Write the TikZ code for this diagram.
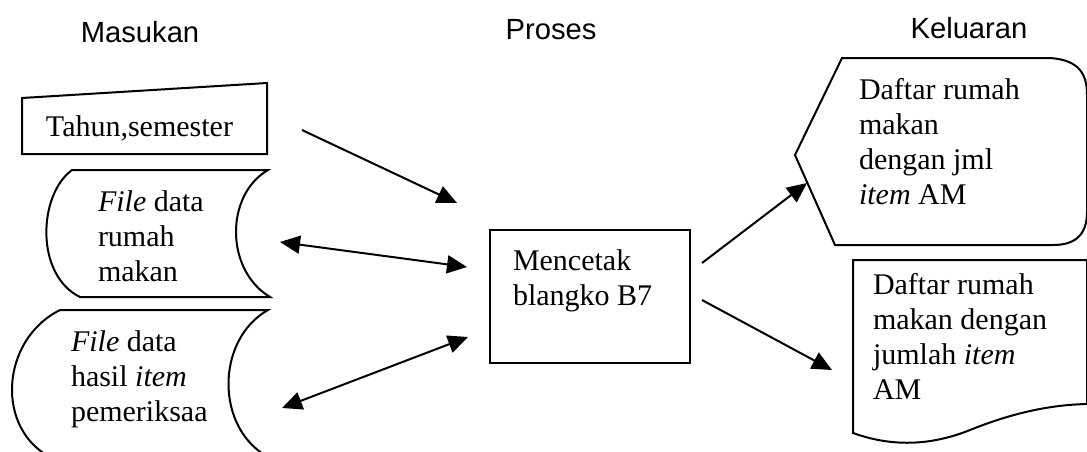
\documentclass[tikz,border=0pt]{standalone}
\usepackage{fontspec}
\setmainfont{Liberation Serif}
\setsansfont{Liberation Sans}
\usetikzlibrary{arrows.meta,positioning,calc}

\begin{document}
\begin{tikzpicture}[x=0.5pt, y=-0.5pt, line width=1pt, >={Triangle[length=10pt,width=9pt]}]
\tikzstyle{judul}=[font=\sffamily\fontsize{14.6}{17}\selectfont, inner sep=0pt]
\tikzstyle{isi}=[font=\fontsize{15}{17.5}\selectfont, align=left, inner sep=0pt, anchor=north west]
\useasboundingbox (0,0) rectangle (1087,451);
% judul kolom
\node[judul] (masuk)  at (140,32)  {Masukan};
\node[judul] (proses) at (551,30)  {Proses};
\node[judul] (keluar) at (969,28) {Keluaran};
% masukan
\draw (22,98) -- (267,83) -- (267,154) -- (22,154) -- cycle;
\node[isi, anchor=west] (tahun) at (45,128) {Tahun,semester};
\draw (72,170) -- (268,170) .. controls (225,195) and (225,270) .. (270,297) -- (80,297)
      .. controls (35,275) and (38,195) .. cycle;
\node[isi] (fileA) at (97,190) {\textit{File} data\\rumah\\makan};
\draw (60,310) -- (268,310) .. controls (215,340) and (215,430) .. (270,458) -- (52,458)
      .. controls (-5,430) and (0,340) .. cycle;
\node[isi] (fileB) at (70,330) {\textit{File} data\\hasil \textit{item}\\pemeriksaa};
% proses
\node[draw, minimum width=100pt, minimum height=66.5pt, inner sep=0pt] (cetak) at (590,296.5) {};
\node[isi] (teks) at (512,249) {Mencetak\\blangko B7};
% keluaran
\draw (842,58) -- (1050,58) .. controls (1080,60) and (1087,75) .. (1087,95) -- (1087,212)
      .. controls (1087,235) and (1075,245) .. (1053,245) -- (835,245) -- (795,155) -- cycle;
\node[isi] (lapA) at (858,77) {Daftar rumah\\makan\\dengan jml\\\textit{item} AM};
\draw (853,260) -- (1087,260) -- (1087,404) .. controls (1040,405) and (1000,418) .. (970,430)
      .. controls (940,442) and (900,450) .. (853,433) -- cycle;
\node[isi] (lapB) at (872,272) {Daftar rumah\\makan dengan\\jumlah \textit{item}\\AM};
% ujung panah
\coordinate (a1) at (302,130);  \coordinate (b1) at (457,203);
\coordinate (a2) at (280,242);  \coordinate (b2) at (467,267);
\coordinate (a3) at (282,408);  \coordinate (b3) at (468,337);
\coordinate (a4) at (702,263);  \coordinate (b4) at (807,183);
\coordinate (a5) at (702,300);  \coordinate (b5) at (832,370);
\path
(a1) edge[->]  (b1)
(a2) edge[<->] (b2)
(a3) edge[<->] (b3)
(a4) edge[->]  (b4)
(a5) edge[->]  (b5);
\end{tikzpicture}
\end{document}
